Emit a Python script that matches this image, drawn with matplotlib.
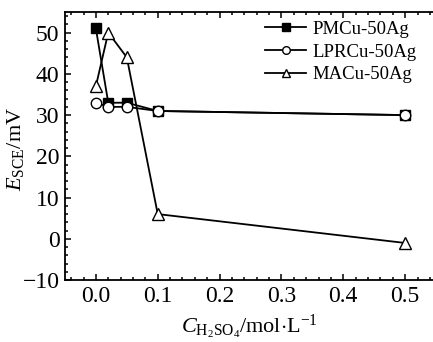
import matplotlib
matplotlib.use("Agg")
import matplotlib.pyplot as plt
from matplotlib.ticker import MultipleLocator

conc = [0.0, 0.02, 0.05, 0.1, 0.5]
pmcu = [51, 33, 33, 31, 30]
lprcu = [33, 32, 32, 31, 30]
macu = [37, 50, 44, 6, -1]
labels = ["PMCu-50Ag", "LPRCu-50Ag", "MACu-50Ag"]

plt.rcParams['font.family'] = ['Liberation Serif', 'DejaVu Serif']
plt.rcParams['mathtext.fontset'] = 'custom'
plt.rcParams['mathtext.rm'] = 'Liberation Serif'
plt.rcParams['mathtext.it'] = 'Liberation Serif:italic'

fig = plt.figure(figsize=(4.33, 3.42), dpi=100)
ax = fig.add_axes([0.150, 0.181, 0.850, 0.784])

ax.plot(conc, pmcu, '-s', color='black', lw=1.3, ms=6.5, mfc='black', label=labels[0])
ax.plot(conc, lprcu, '-o', color='black', lw=1.3, ms=7.5, mfc='white', label=labels[1])
ax.plot(conc, macu, '-^', color='black', lw=1.3, ms=9, mfc='white', label=labels[2])

ax.set_xlim(-0.05, 0.545)
ax.set_ylim(-10, 55)
ax.xaxis.set_minor_locator(MultipleLocator(0.02))
ax.yaxis.set_minor_locator(MultipleLocator(2))
ax.set_xticks([0.0, 0.1, 0.2, 0.3, 0.4, 0.5])
ax.set_xticklabels(["0.0", "0.1", "0.2", "0.3", "0.4", "0.5"])
ax.set_yticks([-10, 0, 10, 20, 30, 40, 50])
ax.set_yticklabels(["\u221210", "0", "10", "20", "30", "40", "50"])

ax.spines['right'].set_visible(False)
for s in ['left', 'top', 'bottom']:
    ax.spines[s].set_linewidth(1.3)
ax.tick_params(which='both', direction='in', top=True, right=False, labelsize=17, width=1.1)
ax.tick_params(which='major', length=4.5, pad=4)
ax.tick_params(which='minor', length=2.5)

ax.set_ylabel(r'$\mathit{E}_{\mathrm{SCE}}\mathrm{/mV}$', fontsize=16)
ax.yaxis.set_label_coords(-0.105, 0.49)
ax.set_xlabel(r'$\mathit{C}_{\mathrm{H_2SO_4}}\mathrm{/mol{\cdot}L^{-1}}$', fontsize=16, labelpad=4)

leg = ax.legend(loc='upper right', frameon=False, fontsize=13.5, handlelength=2.2,
                handletextpad=0.3, labelspacing=0.3, bbox_to_anchor=(1.0, 1.03))
for h in leg.legend_handles:
    h.set_markersize(5.5)

fig.savefig("out.png", dpi=100)
